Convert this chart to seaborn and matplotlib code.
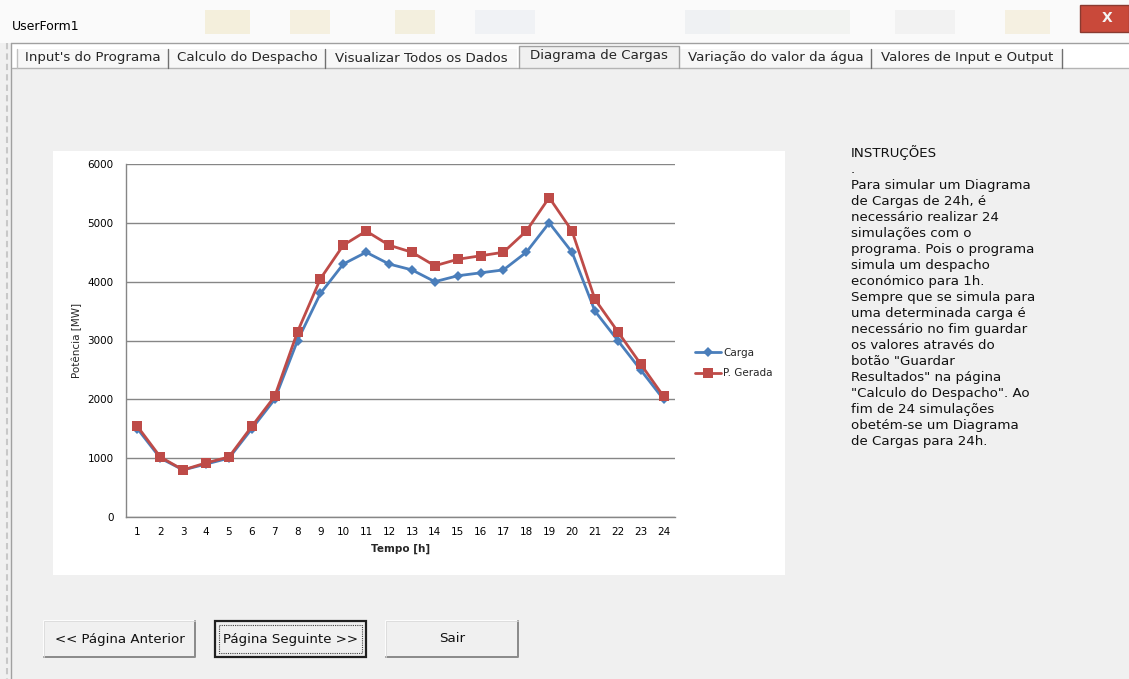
import numpy as np
import pandas as pd
import matplotlib
matplotlib.use("Agg")
import matplotlib.pyplot as plt
import seaborn as sns
from matplotlib.patches import Rectangle

# ---------------- data ----------------
horas = list(range(1, 25))
carga = [1500, 1000, 800, 900, 1000, 1500, 2000, 3000, 3800, 4300, 4500, 4300,
         4200, 4000, 4100, 4150, 4200, 4500, 5000, 4500, 3500, 3000, 2500, 2000]
p_gerada = [1540, 1020, 800, 920, 1020, 1540, 2050, 3150, 4050, 4620, 4860, 4620,
            4500, 4270, 4380, 4440, 4500, 4860, 5430, 4860, 3700, 3150, 2600, 2050]
y_ticks = [0, 1000, 2000, 3000, 4000, 5000, 6000]
series_names = ["Carga", "P. Gerada"]

tab_labels = ["Input's do Programa", "Calculo do Despacho", "Visualizar Todos os Dados",
              "Diagrama de Cargas", "Variação do valor da água", "Valores de Input e Output"]
instrucoes = ["INSTRUÇÕES", ".", "Para simular um Diagrama", "de Cargas de 24h, é",
              "necessário realizar 24", "simulações com o", "programa. Pois o programa",
              "simula um despacho", "económico para 1h.", "Sempre que se simula para",
              "uma determinada carga é", "necessário no fim guardar", "os valores através do",
              "botão \"Guardar", "Resultados\" na página", "\"Calculo do Despacho\". Ao",
              "fim de 24 simulações", "obetém-se um Diagrama", "de Cargas para 24h."]
botoes = ["<< Página Anterior", "Página Seguinte >>", "Sair"]

df = pd.DataFrame({"Tempo": horas * 2,
                   "Potência": carga + p_gerada,
                   "Série": [series_names[0]] * 24 + [series_names[1]] * 24})

# ---------------- style ----------------
sns.set_theme(style="white")
plt.rcParams["font.family"] = ["DejaVu Sans"]

W, H = 1129, 679
fig = plt.figure(figsize=(W / 100, H / 100), dpi=100)
fig.patch.set_facecolor("#F0F0F0")

bg = fig.add_axes([0, 0, 1, 1])
bg.set_xlim(0, W)
bg.set_ylim(H, 0)
bg.axis("off")

# title bar
bg.add_patch(Rectangle((0, 0), W, 43, facecolor="#FAFAFA", edgecolor="none"))
for (x0, w0, c) in [(205, 45, "#F0E6C4"), (290, 40, "#F2E9CC"), (395, 40, "#EFE6C8"),
                    (475, 60, "#E9ECF1"), (685, 45, "#E7EAEF"), (730, 120, "#ECEFEA"),
                    (895, 60, "#EDEDED"), (1005, 45, "#F1E9CE")]:
    bg.add_patch(Rectangle((x0, 10), w0, 24, facecolor=c, edgecolor="none", alpha=0.55))
bg.text(12, 27, "UserForm1", fontsize=9, va="center", ha="left", color="#000000")
bg.add_patch(Rectangle((1080, 5), 49, 27, facecolor="#C9493A", edgecolor="#8A3A30", lw=1))
bg.text(1107, 18.5, "X", fontsize=10, fontweight="bold", color="#F4F4F4", ha="center", va="center")

# form frame
bg.add_patch(Rectangle((11, 43), W - 11, 25, facecolor="#FFFFFF", edgecolor="none"))
bg.plot([11, W], [43, 43], color="#A0A0A0", lw=1)
bg.plot([11, 11], [43, H], color="#A0A0A0", lw=1)
bg.plot([7, 7], [43, H], color="#C8C8C8", lw=1.5, ls=(0, (3, 2)))
bg.add_patch(Rectangle((12, 68), W - 12, H - 68, facecolor="#F0F0F0", edgecolor="none"))
bg.plot([12, W], [68, 68], color="#B4B4B4", lw=1)

# tabs
tab_edges = [(17, 168), (169, 325), (326, 517), (519, 679), (680, 871), (872, 1062)]
for i, (lbl, (l, r)) in enumerate(zip(tab_labels, tab_edges)):
    if i == 3:
        bg.add_patch(Rectangle((l, 46), r - l, 23, facecolor="#F0F0F0", edgecolor="none"))
        bg.plot([l, l, r, r], [68, 46, 46, 68], color="#A0A0A0", lw=1)
        bg.text((l + r) / 2, 56, lbl, fontsize=9.6, ha="center", va="center")
    else:
        bg.add_patch(Rectangle((l, 49), r - l, 19, facecolor="#F7F7F7", edgecolor="none"))
        bg.text((l + r) / 2, 58, lbl, fontsize=9.6, ha="center", va="center")
    if i not in (2, 3):
        bg.plot([r, r], [49, 68], color="#707070", lw=1)
bg.plot([17, 17], [49, 68], color="#C0C0C0", lw=1)

# chart white area
bg.add_patch(Rectangle((53, 151), 732, 424, facecolor="white", edgecolor="none"))

# instructions
for i, line in enumerate(instrucoes):
    bg.text(851, 153 + i * 16.05, line, fontsize=9.6, ha="left", va="center", color="#111111")

# buttons
btn_boxes = [(44, 195), (215, 366), (386, 518)]
for i, (lbl, (l, r)) in enumerate(zip(botoes, btn_boxes)):
    t, b = 621, 657
    bg.add_patch(Rectangle((l, t), r - l, b - t, facecolor="#F0F0F0", edgecolor="none"))
    if i == 1:
        bg.add_patch(Rectangle((l, t), r - l, b - t, facecolor="none", edgecolor="#202020", lw=1.6))
        bg.add_patch(Rectangle((l + 4, t + 4), r - l - 8, b - t - 8, facecolor="none",
                               edgecolor="#404040", lw=0.8, ls=(0, (1, 1))))
    else:
        bg.plot([l, l, r], [b, t, t], color="#FFFFFF", lw=1.2)
        bg.plot([l, r, r], [b, b, t], color="#8A8A8A", lw=1.4)
        bg.plot([l, l, r], [b, t, t], color="#D8D8D8", lw=0.6)
    bg.text((l + r) / 2, 639, lbl, fontsize=9.6, ha="center", va="center", color="#111111")

# ---------------- chart ----------------
pl, pr, pt, pb = 126, 675, 164, 517
ax = fig.add_axes([pl / W, (H - pb) / H, (pr - pl) / W, (pb - pt) / H])
ax.set_facecolor("white")

palette = {"Carga": "#4A7EBB", "P. Gerada": "#BE4B48"}
sns.lineplot(data=df[df["Série"] == "Carga"], x="Tempo", y="Potência",
             color=palette["Carga"], marker="D", markersize=4.6, markeredgewidth=0,
             linewidth=2, label="Carga", ax=ax, zorder=3)
sns.lineplot(data=df[df["Série"] == "P. Gerada"], x="Tempo", y="Potência",
             color=palette["P. Gerada"], marker="s", markersize=6.8, markeredgewidth=0,
             linewidth=2, label="P. Gerada", ax=ax, zorder=4)

ax.set_xlim(0.5, 24.5)
ax.set_ylim(0, 6000)
ax.set_xticks(horas)
ax.set_xticklabels([str(h) for h in horas])
ax.set_xticks(np.arange(0.5, 25, 1), minor=True)
ax.set_yticks(y_ticks)
ax.yaxis.grid(True, color="#868686", lw=1)
ax.xaxis.grid(False)
ax.set_axisbelow(True)
for s in ["top", "right"]:
    ax.spines[s].set_visible(False)
for s in ["left", "bottom"]:
    ax.spines[s].set_color("#868686")
    ax.spines[s].set_linewidth(1)
ax.tick_params(axis="x", which="major", length=0, pad=7, labelsize=7.5, colors="#000000")
ax.tick_params(axis="x", which="minor", length=4, width=1, direction="out", color="#868686")
ax.tick_params(axis="y", which="major", length=4, width=1, direction="out", color="#868686",
               pad=5, labelsize=7.5, labelcolor="#000000")
ax.set_xlabel("Tempo [h]", fontsize=7.5, fontweight="bold", labelpad=5)
ax.set_ylabel("Potência [MW]", fontsize=7.5, labelpad=4)

ax.legend(loc="center left", bbox_to_anchor=((695 - pl) / (pr - pl), (pb - 363) / (pb - pt)),
          frameon=False, fontsize=7.5, handlelength=2.5, handletextpad=0.2,
          labelspacing=1.0, borderpad=0, borderaxespad=0)

fig.savefig("out.png", dpi=100, facecolor=fig.get_facecolor())
